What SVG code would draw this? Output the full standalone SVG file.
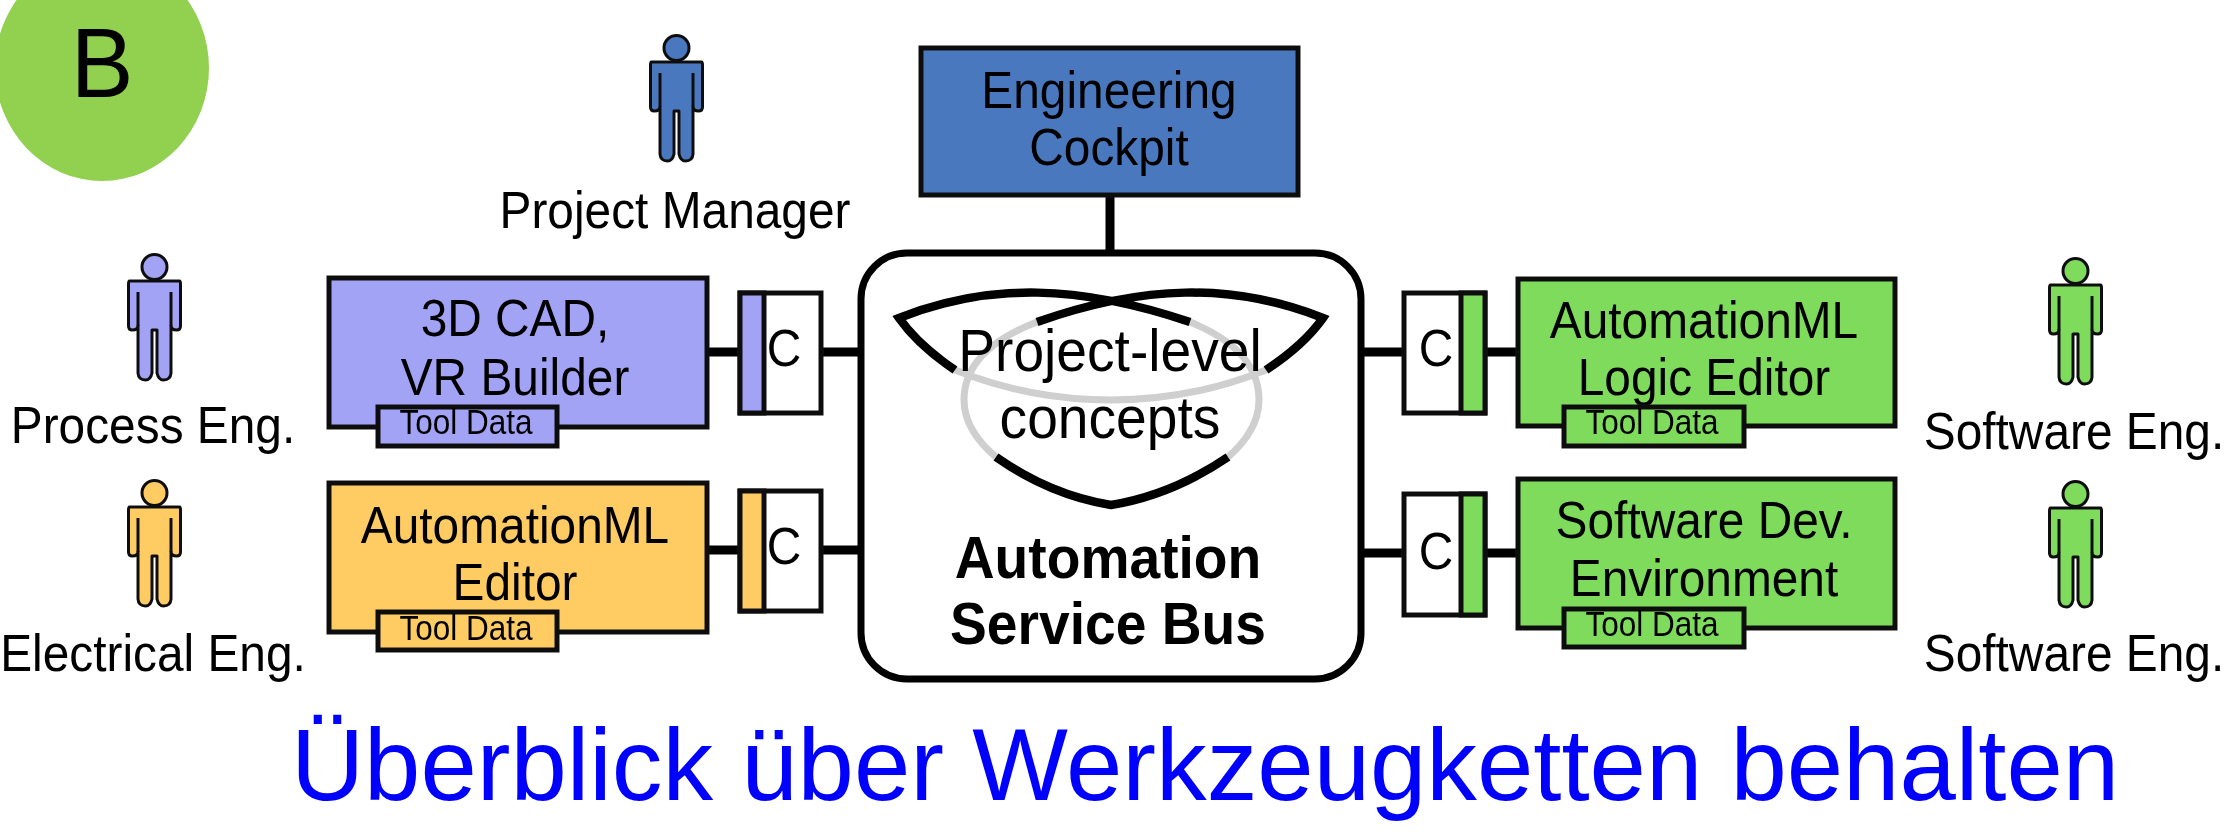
<svg xmlns="http://www.w3.org/2000/svg" width="2230" height="832" viewBox="0 0 2230 832">
<style>
text{font-family:"Liberation Sans",Arial,sans-serif;fill:#000;text-anchor:middle}
.t{font-size:52px}.td{font-size:35px}.b{font-size:60px;font-weight:bold}.p{font-size:60px}
.box{stroke:#111;stroke-width:5}.cbox{fill:#fff;stroke:#111;stroke-width:5}.cbar{stroke:#111;stroke-width:5}
.pers{stroke:#111;stroke-width:3;stroke-linejoin:round}
.blue{fill:#4a78bf}.lil{fill:#a3a3f5}.or{fill:#ffcb63}.gr{fill:#7edb5b}
.ln{stroke:#000;stroke-width:9;fill:none}
.knot{fill:none;stroke:#000;stroke-width:8.500}.knotg{fill:none;stroke:#cfcfcf;stroke-width:7}
</style>
<defs>
<filter id="soft" x="-2%" y="-2%" width="104%" height="104%"><feGaussianBlur stdDeviation="0.7"/></filter>
<g id="person">
<ellipse cx="0" cy="13" rx="12.5" ry="12.5"/>
<path d="M-25,27H25Q26,27 26,30V72Q26,76 22,76Q17,76 16.500,72V119Q16,126 9,126Q4,126 2.500,119V76H-2.500V119Q-4,126 -9,126Q-16,126 -16.500,119V72Q-17,76 -22,76Q-26,76 -26,72V30Q-26,27 -25,27Z"/>
<path d="M-16.500,38V72M16.500,38V72" fill="none"/>
</g>
</defs>
<g id="badge"><ellipse cx="102" cy="68" rx="107" ry="113" fill="#92d050"/><text transform="translate(102 97) scale(.95 1)" style="font-size:99px">B</text></g>
<g filter="url(#soft)">
<g id="connectors">
<path class="ln" d="M1110,195V253M707,352H740M821,352H861M707,550H740M821,550H861M1361,352H1404M1485,352H1518M1361,553H1404M1485,553H1518"/>
</g>
<g id="pm"><use href="#person" x="676.500" y="35" class="blue pers"/><text class="t" transform="translate(675 228) scale(.92 1)">Project Manager</text></g>
<g id="process-eng"><use href="#person" x="154.500" y="254" class="lil pers"/><text class="t" transform="translate(153 443) scale(.92 1)">Process Eng.</text></g>
<g id="electrical-eng"><use href="#person" x="154.500" y="480" class="or pers"/><text class="t" transform="translate(153 671) scale(.92 1)">Electrical Eng.</text></g>
<g id="software-eng-1"><use href="#person" x="2075.500" y="258" class="gr pers"/><text class="t" transform="translate(2074 449) scale(.92 1)">Software Eng.</text></g>
<g id="software-eng-2"><use href="#person" x="2075.500" y="481" class="gr pers"/><text class="t" transform="translate(2074 671) scale(.92 1)">Software Eng.</text></g>
<g id="cockpit"><rect class="box blue" x="921" y="48" width="377" height="147"/><text class="t" transform="translate(1109 108) scale(.92 1)">Engineering</text><text class="t" transform="translate(1109 165) scale(.92 1)">Cockpit</text></g>
<g id="cad"><rect class="box lil" x="329" y="278" width="378" height="149"/><text class="t" transform="translate(515 336) scale(.92 1)">3D CAD,</text><text class="t" transform="translate(515 395) scale(.92 1)">VR Builder</text><rect class="box lil" x="378" y="407" width="179" height="39"/><text class="td" transform="translate(466 434) scale(.9 1)">Tool Data</text></g>
<g id="aml-editor"><rect class="box or" x="329" y="483" width="378" height="149"/><text class="t" transform="translate(515 543) scale(.92 1)">AutomationML</text><text class="t" transform="translate(515 600) scale(.92 1)">Editor</text><rect class="box or" x="378" y="612" width="179" height="38"/><text class="td" transform="translate(466 640) scale(.9 1)">Tool Data</text></g>
<g id="logic-editor"><rect class="box gr" x="1518" y="279" width="377" height="147"/><text class="t" transform="translate(1704 338) scale(.92 1)">AutomationML</text><text class="t" transform="translate(1704 395) scale(.92 1)">Logic Editor</text><rect class="box gr" x="1564" y="407" width="180" height="39"/><text class="td" transform="translate(1652 434) scale(.9 1)">Tool Data</text></g>
<g id="sw-env"><rect class="box gr" x="1518" y="479" width="377" height="149"/><text class="t" transform="translate(1704 538) scale(.92 1)">Software Dev.</text><text class="t" transform="translate(1704 596) scale(.92 1)">Environment</text><rect class="box gr" x="1564" y="609" width="180" height="38"/><text class="td" transform="translate(1652 636) scale(.9 1)">Tool Data</text></g>
<g id="c1"><rect class="cbox" x="740" y="293" width="81" height="120"/><rect class="cbar lil" x="740" y="293" width="24" height="120"/><text class="t" transform="translate(784 366) scale(.92 1)">C</text></g>
<g id="c2"><rect class="cbox" x="740" y="491" width="81" height="120"/><rect class="cbar or" x="740" y="491" width="24" height="120"/><text class="t" transform="translate(784 564) scale(.92 1)">C</text></g>
<g id="c3"><rect class="cbox" x="1404" y="293" width="81" height="120"/><rect class="cbar gr" x="1461" y="293" width="24" height="120"/><text class="t" transform="translate(1436 366) scale(.92 1)">C</text></g>
<g id="c4"><rect class="cbox" x="1404" y="494" width="81" height="121"/><rect class="cbar gr" x="1461" y="494" width="24" height="121"/><text class="t" transform="translate(1436 569) scale(.92 1)">C</text></g>
<g id="bus">
<rect x="861" y="253" width="500" height="426" rx="46" fill="#fff" stroke="#000" stroke-width="7"/>
<path class="knotg" d="M955,370Q1030,400 1111,400Q1192,400 1266,370M1190,322Q1259,350 1259,400Q1259,430 1228,457M996,457Q964,430 964,400Q964,350 1037,322"/>
<path class="knot" d="M955,370Q918,345 899,318C990,282 1080,285 1190,322M1266,370Q1304,345 1323,318C1232,282 1142,285 1037,322M996,457Q1050,495 1111,505Q1172,495 1228,457"/>
<text class="p" transform="translate(1110 371) scale(.92 1)">Project-level</text><text class="p" transform="translate(1110 438) scale(.92 1)">concepts</text>
<text class="b" transform="translate(1108 578) scale(.92 1)">Automation</text><text class="b" transform="translate(1108 644) scale(.92 1)">Service Bus</text>
</g>
</g>
<text id="caption" x="1205" y="800" style="font-size:101.300px;fill:#0000ff">Überblick über Werkzeugketten behalten</text>
</svg>
